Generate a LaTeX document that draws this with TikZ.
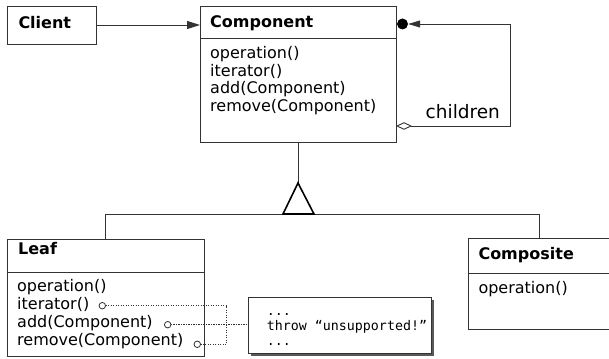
\documentclass[tikz,border=0pt]{standalone}
\usepackage{fontspec}
\setmainfont{DejaVu Sans}
\setmonofont{DejaVu Sans Mono}
\usetikzlibrary{arrows.meta}
\begin{document}
\begin{tikzpicture}[x=1pt,y=-1pt,
  umlbox/.style={draw=black!80, line width=0.9pt, fill=white, anchor=north west,
    inner sep=0pt, outer sep=0pt},
  lbl/.style={anchor=base west, inner sep=0pt, font=\fontsize{16}{19}\selectfont},
  ttl/.style={anchor=base west, inner sep=0pt, font=\fontsize{16}{19}\selectfont\bfseries},
  codeline/.style={anchor=base west, inner sep=0pt, font=\ttfamily\fontsize{13.3}{15}\selectfont},
  link/.style={draw=black!80, line width=0.9pt},
  pin/.style={circle, draw=black!80, line width=0.8pt, fill=white, minimum size=6.5pt,
    inner sep=0pt, outer sep=0pt},
  dots/.style={draw=black!80, line width=0.8pt, dash pattern=on 1.2pt off 1.3pt},
]
\useasboundingbox (0,0) rectangle (609,358);

% ---- class boxes ----
\node[umlbox, minimum width=89pt, minimum height=38pt] (client) at (7,6) {};
\node[ttl] (clientT) at (18.3,29) {Client};

\node[umlbox, minimum width=196pt, minimum height=136pt] (component) at (200,6) {};
\draw[link] (component.north west) ++(0,32) -- ++(196,0);
\node[ttl] (componentT) at (210,28) {Component};
\node[lbl] (cm1) at (210,59) {operation()};
\node[lbl] (cm2) at (210,76.5) {iterator()};
\node[lbl] (cm3) at (210,94) {add(Component)};
\node[lbl] (cm4) at (210,111.5) {remove(Component)};

\node[umlbox, minimum width=197pt, minimum height=117pt] (leaf) at (7,239) {};
\draw[link] (leaf.north west) ++(0,33) -- ++(197,0);
\node[ttl] (leafT) at (18,254) {Leaf};
\node[lbl] (lm1) at (17,291.7) {operation()};
\node[lbl] (lm2) at (17,309.3) {iterator()};
\node[lbl] (lm3) at (17,327.3) {add(Component)};
\node[lbl] (lm4) at (17,345) {remove(Component)};

\node[umlbox, minimum width=142pt, minimum height=91pt] (composite) at (468,238) {};
\draw[link] (composite.north west) ++(0,35) -- ++(142,0);
\node[ttl] (compositeT) at (478.3,259.3) {Composite};
\node[lbl] (pm1) at (478.3,293) {operation()};

% ---- note with shadow ----
\fill[black!65] (251,300) rectangle (434,356);
\node[umlbox, minimum width=183pt, minimum height=56pt] (note) at (248,297) {};
\node[codeline] (n1) at (266.7,315.3) {...};
\node[codeline] (n2) at (266.7,330) {throw “unsupported!”};
\node[codeline] (n3) at (266.7,345) {...};

% ---- client uses component ----
\draw[link, -{Triangle[length=13pt,width=8pt]}] (client.east) -- (client.east -| component.west);

% ---- children: aggregation loop back to the component ----
\node[circle, fill=black, minimum size=11pt, inner sep=0pt] (joint) at (402.5,24) {};
\coordinate (aggStart) at (396,126);
\coordinate (loopB) at (510,126);
\coordinate (loopT) at (510,24);
\draw[link, {Diamond[open,length=16pt,width=7.5pt]}-{Triangle[length=12pt,width=7pt]}]
  (aggStart) -- (loopB) -- (loopT) -- (joint.east);
\node[anchor=base west, inner sep=0pt, font=\fontsize{18.5}{22}\selectfont] (childrenT)
  at (425.5,118.3) {children};

% ---- generalisation ----
\coordinate (apex) at (298,183);
\coordinate (baseL) at (283,214);
\coordinate (baseR) at (314,214);
\coordinate (busR) at (539,214);
\draw[link] (component.south) -- (apex);
\draw[link] (leaf.north) -- (leaf.north |- busR) -- (busR) -- (composite.north);
\draw[black, line width=1.6pt, fill=white, line join=miter] (apex) -- (baseL) -- (baseR) -- cycle;

% ---- leaf methods pointing to the note ----
\node[pin] (pinIter) at (102.3,305.7) {};
\node[pin] (pinAdd) at (167.7,324.7) {};
\node[pin] (pinRem) at (197.3,344.3) {};
\coordinate (joinTop) at (226.7,305.7);
\coordinate (joinBot) at (226.7,344.3);
\draw[dots] (pinIter.east) -- (joinTop) -- (joinBot) -- (pinRem.east);
\draw[dots] (pinAdd.east) -- (pinAdd.east -| note.west);
\end{tikzpicture}
\end{document}
